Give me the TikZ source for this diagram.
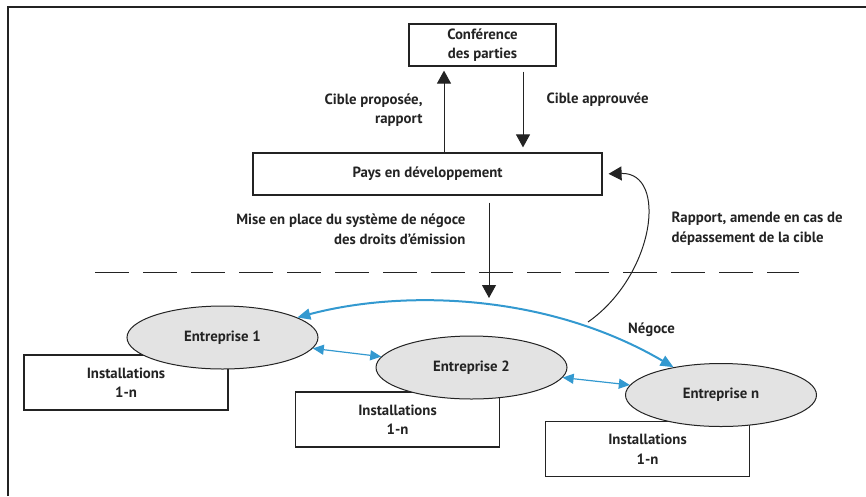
\documentclass[tikz,border=0pt]{standalone}
\usepackage{fontspec}
\setmainfont{PT Sans}
\usetikzlibrary{arrows.meta,shapes.geometric}

\definecolor{bleunegoce}{RGB}{51,153,208}
\definecolor{traitgris}{RGB}{35,35,35}

\tikzset{
    texte/.style={font=\bfseries\fontsize{14.8}{19.5}\selectfont, text=traitgris},
    boite/.style={texte, draw=traitgris, line width=1.2pt, fill=white, align=center, inner sep=0pt},
    entreprise/.style={texte, ellipse, draw=traitgris, line width=1pt, fill=gray!22,
        minimum width=191pt, minimum height=63pt, inner sep=0pt},
    fleche/.style={draw=traitgris, line width=1pt, -{Triangle[length=13pt,width=14pt]}},
    negoce/.style={draw=bleunegoce, line width=2pt,
        {Triangle[length=13pt,width=11pt]}-{Triangle[length=13pt,width=11pt]}},
    echange/.style={draw=bleunegoce, line width=1.2pt,
        {Triangle[length=11pt,width=10pt]}-{Triangle[length=11pt,width=10pt]}}
}

\begin{document}
\begin{tikzpicture}[x=1pt, y=-1pt]
    \useasboundingbox (0, 0) rectangle (866, 496);
    % Cadre
    \draw[traitgris, line width=1.5pt] (8, 496) -- (8, 7) -- (866, 7);

    % Niveau national
    \node[boite, minimum width=147pt, minimum height=42pt] (conf) at (482.5, 45) {Conférence\\des parties};
    \node[boite, minimum width=349pt, minimum height=42pt] (pays) at (427.5, 174) {Pays en développement};

    % Fleches entre la conference et le pays
    \draw[fleche, shorten >=4pt] ([xshift=-38.5pt]conf.south |- pays.north) -- ([xshift=-38.5pt]conf.south);
    \draw[fleche, shorten <=5pt, shorten >=5pt] ([xshift=40.5pt]conf.south) -- ([xshift=40.5pt]conf.south |- pays.north);
    \node[texte, anchor=east, align=right] (propose) at (426, 110) {Cible proposée,\\rapport};
    \node[texte, anchor=west] (approuve) at (543, 100) {Cible approuvée};

    % Separation
    \draw[traitgris, line width=1pt, dash pattern=on 34pt off 14pt] (95, 272) -- (799, 272);

    % Installations (sous les entreprises)
    \node[boite, minimum width=204pt, minimum height=55pt, text depth=-6pt] (inst1) at (126, 382.5) {Installations\\1-n};
    \node[boite, minimum width=204pt, minimum height=55pt, text depth=-6pt] (inst2) at (397.5, 419.5) {Installations\\1-n};
    \node[boite, minimum width=204pt, minimum height=55pt, text depth=-6pt] (instn) at (647.5, 449) {Installations\\1-n};

    % Entreprises
    \node[entreprise] (e1) at (222.5, 337.5) {Entreprise 1};
    \node[entreprise] (e2) at (471.5, 367.5) {Entreprise 2};
    \node[entreprise] (en) at (721, 395) {Entreprise n};

    % Negoce
    \draw[negoce] (e1) .. controls (400, 290) and (545, 292) .. (en);
    \draw[echange] (e1) -- (e2);
    \draw[echange] (e2) -- (en);
    \node[texte] (lblnegoce) at (651.5, 330) {Négoce};

    % Mise en place du systeme
    \coordinate (pointe) at (489, 298);
    \draw[fleche, shorten <=7pt] (pays.south -| pointe) -- (pointe);
    \node[texte, anchor=east, align=right] (miseplace) at (469, 229.5) {Mise en place du système de négoce\\des droits d’émission};

    % Rapport et amende
    \coordinate (depart) at (588, 322);
    \draw[fleche, shorten >=6pt] (depart) .. controls (655, 275) and (668, 172) .. (pays.east);
    \node[texte, anchor=west, align=left] (rapport) at (668, 228.5) {Rapport, amende en cas de\\dépassement de la cible};
\end{tikzpicture}
\end{document}
